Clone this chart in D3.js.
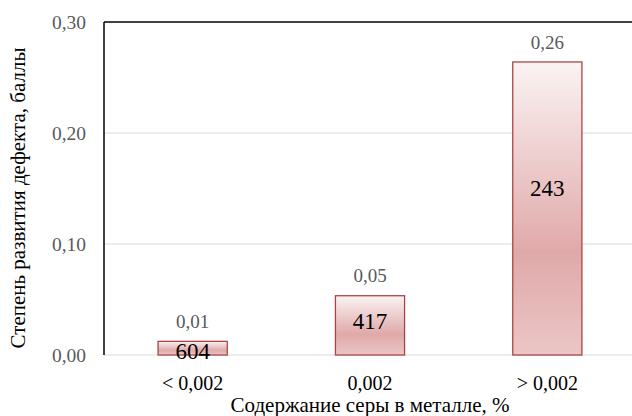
<!DOCTYPE html>
<html><head><meta charset="utf-8">
<script src="https://cdn.jsdelivr.net/npm/d3@7"></script>
<style>body{margin:0;background:#fff}svg{display:block}</style>
</head><body><svg id="c" width="632" height="416"></svg>
<script>
const categories = ["< 0,002", "0,002", "> 0,002"];
const values = [0.0123, 0.0534, 0.264];
const valueLabels = ["0,01", "0,05", "0,26"];
const counts = ["604", "417", "243"];
const yTicks = [0, 0.1, 0.2, 0.3];
const yTickLabels = ["0,00", "0,10", "0,20", "0,30"];
const yTitle = "Степень развития дефекта, баллы";
const xTitle = "Содержание серы в металле, %";

const svg = d3.select("#c");
const FF = "Liberation Serif";
const L = 104, T = 22, R = 636, B = 355;
const x = d3.scaleBand().domain(categories).range([L, R]).paddingInner(0.61).paddingOuter(0.305);
const y = d3.scaleLinear().domain([0, 0.3]).range([B, T]);

const defs = svg.append("defs");
const g = defs.append("linearGradient").attr("id", "grad").attr("x1", 0).attr("y1", 0).attr("x2", 0).attr("y2", 1);
g.append("stop").attr("offset", "0%").attr("stop-color", "#fbf3f3");
g.append("stop").attr("offset", "65%").attr("stop-color", "#e0a9a9");
g.append("stop").attr("offset", "100%").attr("stop-color", "#ebc6c6");

// gridlines
svg.append("g").selectAll("line").data(yTicks.slice(0, -1)).join("line")
  .attr("x1", L).attr("x2", 632).attr("y1", d => y(d)).attr("y2", d => y(d))
  .attr("stroke", "#d9d9d9").attr("stroke-width", 1);

// y tick labels
svg.append("g").selectAll("text").data(yTicks).join("text")
  .attr("x", 86).attr("y", d => y(d)).attr("dy", "0.35em").attr("text-anchor", "end")
  .style("font-family", FF).style("font-size", "19.5px").attr("fill", "#595959")
  .text((d, i) => yTickLabels[i]);

// bars
svg.append("g").selectAll("rect").data(values).join("rect")
  .attr("x", (d, i) => x(categories[i])).attr("width", x.bandwidth())
  .attr("y", d => y(d)).attr("height", d => y(0) - y(d))
  .attr("fill", "url(#grad)").attr("stroke", "#a94645").attr("stroke-width", 1.3);

// frame: top and left
svg.append("line").attr("x1", L).attr("x2", 632).attr("y1", T).attr("y2", T).attr("stroke", "#000").attr("stroke-width", 1.5);
svg.append("line").attr("x1", L).attr("x2", L).attr("y1", T).attr("y2", B).attr("stroke", "#000").attr("stroke-width", 1.5);

// value labels
svg.append("g").selectAll("text").data(values).join("text")
  .attr("x", (d, i) => x(categories[i]) + x.bandwidth() / 2).attr("y", d => y(d) - 20)
  .attr("dy", "0.35em").attr("text-anchor", "middle")
  .style("font-family", FF).style("font-size", "19px").attr("fill", "#595959")
  .text((d, i) => valueLabels[i]);

// count labels
svg.append("g").selectAll("text").data(values).join("text")
  .attr("x", (d, i) => x(categories[i]) + x.bandwidth() / 2)
  .attr("y", d => Math.max(y(d) + (y(0) - y(d)) * 0.43, y(d) + 10))
  .attr("dy", "0.35em").attr("text-anchor", "middle")
  .style("font-family", FF).style("font-size", "23px").attr("fill", "#000")
  .text((d, i) => counts[i]);

// x tick labels
svg.append("g").selectAll("text").data(categories).join("text")
  .attr("x", d => x(d) + x.bandwidth() / 2).attr("y", 383).attr("dy", "0.35em")
  .attr("text-anchor", "middle").style("font-family", FF).style("font-size", "20px").attr("fill", "#000")
  .text(d => d);

// titles
svg.append("text").attr("x", 370).attr("y", 405).attr("dy", "0.35em").attr("text-anchor", "middle")
  .style("font-family", FF).style("font-size", "21px").attr("fill", "#000").text(xTitle);
svg.append("text").attr("transform", "translate(18,198) rotate(-90)").attr("dy", "0.35em").attr("text-anchor", "middle")
  .style("font-family", FF).style("font-size", "21px").attr("fill", "#000").text(yTitle);
</script></body></html>
